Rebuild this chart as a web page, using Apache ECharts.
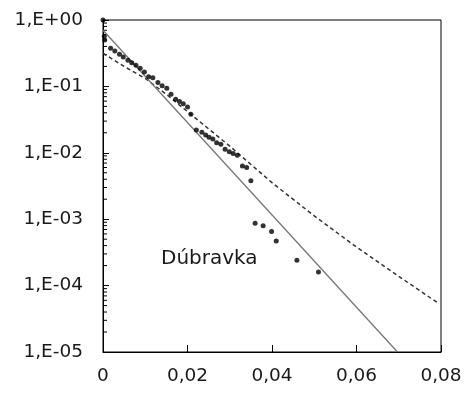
<!DOCTYPE html>
<html>
<head>
<meta charset="utf-8">
<script src="https://cdn.jsdelivr.net/npm/echarts@6/dist/echarts.min.js"></script>
<style>html,body{margin:0;padding:0;background:#fff}#c{width:467px;height:393px}</style>
</head>
<body>
<div id="c"></div>
<script>
// Observed points (Dúbravka)
var pointX = [0, 0.0003, 0.0004, 0.0018, 0.0028, 0.0039, 0.0048, 0.0059, 0.0068, 0.0078, 0.0088, 0.0098, 0.0108, 0.0118, 0.0130, 0.0140, 0.0151, 0.0161, 0.0172, 0.0181, 0.0190, 0.0200, 0.0208, 0.0221, 0.0234, 0.0243, 0.0251, 0.0260, 0.0269, 0.0279, 0.0289, 0.0299, 0.0308, 0.0318, 0.0330, 0.0340, 0.0350, 0.0360, 0.0379, 0.0399, 0.0410, 0.0459, 0.0510];
var pointY = [1, 0.57, 0.50, 0.375, 0.341, 0.304, 0.277, 0.247, 0.228, 0.208, 0.187, 0.165, 0.140, 0.135, 0.114, 0.1025, 0.094, 0.076, 0.064, 0.059, 0.055, 0.049, 0.038, 0.022, 0.0204, 0.0185, 0.0171, 0.0161, 0.0142, 0.0134, 0.0113, 0.0104, 0.0098, 0.0092, 0.0063, 0.0060, 0.0038, 0.00087, 0.00080, 0.00065, 0.00047, 0.00024, 0.00016];
// Solid fitted line (straight on log scale)
var solidX = [0, 0.0697];
var solidY = [0.70, 0.00001];
// Dashed fitted curve
var dashX = [0, 0.005, 0.01, 0.015, 0.02, 0.03, 0.04, 0.05, 0.06, 0.07, 0.0795];
var dashY = [0.3162, 0.1995, 0.1318, 0.0759, 0.0417, 0.01259, 0.003548, 0.001122, 0.00038, 0.000138, 0.0000535];
// Tick labels
var xTickValues = [0, 0.02, 0.04, 0.06, 0.08];
var xTickLabels = ['0', '0,02', '0,04', '0,06', '0,08'];
var yTickValues = [1, 0.1, 0.01, 0.001, 0.0001, 0.00001];
var yTickLabels = ['1,E+00', '1,E-01', '1,E-02', '1,E-03', '1,E-04', '1,E-05'];
var annotationText = 'Dúbravka';

function zip(a, b) { return a.map(function (v, i) { return [v, b[i]]; }); }
function lookup(vals, labels, v) {
  for (var i = 0; i < vals.length; i++) {
    if (Math.abs(vals[i] - v) <= Math.abs(vals[i]) * 1e-6 + 1e-12) return labels[i];
  }
  return '';
}
var minorTicks = [];
for (var d = -5; d < 0; d++) {
  for (var k = 2; k <= 9; k++) minorTicks.push([0, k * Math.pow(10, d)]);
}

var FONT = 'DejaVu Sans';
var chart = echarts.init(document.getElementById('c'), null, { renderer: 'canvas' });
chart.setOption({
  animation: false,
  backgroundColor: '#fff',
  grid: { left: 103, right: 26, top: 20, bottom: 41, show: true, borderColor: '#000', borderWidth: 1, backgroundColor: 'transparent' },
  xAxis: {
    type: 'value', min: 0, max: 0.08, interval: 0.02,
    axisLine: { lineStyle: { color: '#000', width: 1 } },
    axisTick: { inside: true, length: 7, lineStyle: { color: '#000' } },
    splitLine: { show: false },
    axisLabel: { margin: 15, color: '#1a1a1a', fontFamily: FONT, fontSize: 18.5,
      formatter: function (v) { return lookup(xTickValues, xTickLabels, v); } }
  },
  yAxis: {
    type: 'log', logBase: 10, min: 0.00001, max: 1, interval: 1,
    axisLine: { lineStyle: { color: '#000', width: 1 } },
    axisTick: { inside: true, length: 6, lineStyle: { color: '#000' } },
    splitLine: { show: false },
    axisLabel: { margin: 20, color: '#1a1a1a', fontFamily: FONT, fontSize: 18.5,
      formatter: function (v) { return lookup(yTickValues, yTickLabels, v); } }
  },
  series: [
    {
      type: 'custom', data: minorTicks, silent: true, clip: false,
      renderItem: function (params, api) {
        var p = api.coord([api.value(0), api.value(1)]);
        return { type: 'line', shape: { x1: p[0], y1: p[1], x2: p[0] + 4, y2: p[1] }, style: { stroke: '#000', lineWidth: 1 } };
      }
    },
    {
      type: 'line', data: zip(dashX, dashY), symbol: 'none', smooth: false,
      lineStyle: { color: '#333', width: 1.5, type: [4, 3] }, z: 2
    },
    {
      type: 'line', data: zip(solidX, solidY), symbol: 'none',
      lineStyle: { color: '#777', width: 1.3 }, z: 2
    },
    {
      type: 'scatter', data: zip(pointX, pointY), symbol: 'circle', symbolSize: 5, clip: false,
      itemStyle: { color: '#000' }, z: 3
    }
  ],
  graphic: [
    { type: 'text', left: 161, top: 249, style: { text: annotationText, fontFamily: FONT, fontSize: 20, fill: '#1a1a1a' } }
  ]
});
</script>
</body>
</html>
